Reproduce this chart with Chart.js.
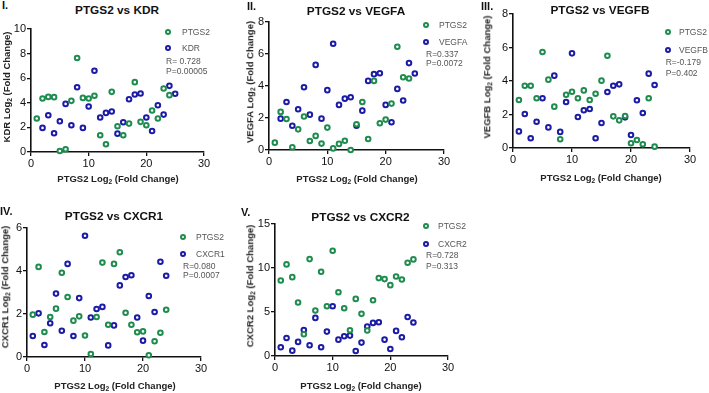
<!DOCTYPE html>
<html>
<head>
<meta charset="utf-8">
<script src="https://cdn.jsdelivr.net/npm/chart.js@4/dist/chart.umd.min.js"></script>
<style>
  html, body { margin:0; padding:0; background:#fff; }
  #wrap { position:relative; width:709px; height:393px; overflow:hidden; font-family:"Liberation Sans", Arial, sans-serif; }
  canvas { position:absolute; }
  .t { position:absolute; white-space:nowrap; line-height:1; }
  .num { font-weight:bold; font-size:11px; color:#111; transform:translate(0,-50%); }
  .title { font-weight:bold; font-size:11.8px; color:#111; transform:translate(-50%,-50%); }
  .xt { font-weight:bold; font-size:9.5px; color:#222; transform:translate(-50%,-50%); }
  .yt { font-weight:bold; font-size:9.5px; color:#222; transform:translate(-50%,-50%) rotate(-90deg); }
  sub { font-size:70%; vertical-align:-0.3em; line-height:0; }
  .lg { font-size:8.5px; color:#555; transform:translate(0,-50%); }
  .mk { position:absolute; width:6px; height:6px; box-sizing:border-box; border-radius:50%; border:2px solid; background:#fff; transform:translate(-50%,-50%); }
</style>
</head>
<body>
<div id="wrap"></div>
<script>
// ---- data ----
const xPtgs2 = [1,2,3,4,5,6,7,8,9,10,11,12,13,14,15,16,17,18,19,20,21,22,23,24];
const xShift = [2,3,4,5,6,7,8,9,10,11,12,13,14,15,16,17,18,19,20,21,22,23,24,25];

const kdrPtgs2 = [2.72,4.35,4.48,4.46,0.08,0.22,4.16,7.64,4.4,4.35,4.57,1.36,0.63,4.89,2.09,1.36,2.31,5.68,2.45,2.17,3.37,2.72,5.16,4.62];
const kdrVals  = [1.96,2.99,1.52,2.5,3.91,2.17,5.27,1.96,3.7,6.6,2.8,3.18,3.29,1.49,2.42,4.29,4.67,4.76,2.8,1.71,3.8,3.04,5.38,4.73];

const vegfaPtgs2 = [0.46,2.38,1.94,0.17,1.29,2.09,0.56,0.88,0.4,1.4,0.1,0.38,0.58,0.0,1.61,3.0,0.69,4.32,1.67,1.9,2.9,6.45,4.55,4.47];
const vegfaVals  = [1.96,3.0,1.52,2.55,3.92,2.21,5.32,1.96,3.74,6.64,2.82,3.21,3.3,1.52,2.46,4.32,4.74,4.8,2.82,1.73,3.82,3.09,5.43,4.78];

const vegfbPtgs2 = [2.87,3.72,3.72,2.97,5.73,4.08,2.47,0.52,3.18,3.36,2.97,3.44,2.87,3.24,4.02,5.51,1.89,1.65,1.91,0.28,0.48,0.22,2.97,0.08];
const vegfbVals  = [0.99,2.03,0.58,1.57,2.97,1.23,4.32,0.96,2.75,5.65,1.85,2.25,2.33,0.58,1.49,3.34,3.72,3.8,1.83,0.78,2.85,2.09,4.44,3.76];

const cxcr1Ptgs2 = [1.97,4.19,1.16,1.86,2.25,3.92,2.79,1.69,1.89,1.0,0.14,1.86,4.39,1.5,4.33,4.87,2.06,1.5,1.15,1.19,0.08,0.73,1.13,2.2];
const cxcr1Vals  = [0.98,2.03,0.56,1.57,2.95,1.22,4.33,0.98,2.74,5.64,1.84,2.23,2.33,0.54,1.47,3.33,3.72,3.8,1.84,0.76,2.84,2.09,4.43,3.78];

const cxcr2Ptgs2 = [8.58,10.41,8.96,6.08,2.47,11.01,5.17,9.57,5.66,11.96,7.25,5.43,2.92,6.49,4.79,2.89,6.34,8.85,8.74,8.05,9.04,8.7,10.6,10.98];
const cxcr2Vals  = [0.99,2.05,0.61,1.6,2.96,1.22,4.33,0.99,2.77,5.66,1.86,2.24,2.32,0.57,1.52,3.34,3.76,3.84,1.86,0.8,2.85,2.13,4.44,3.8];

const xTicks = [0,10,20,30];
const panelNames = ['I.','II.','III.','IV.','V.'];
const genes = ['KDR','VEGFA','VEGFB','CXCR1','CXCR2'];
const rTexts = ['R= 0.728','R=0.337','R=-0.179','R=0.080','R=0.728'];
const pTexts = ['P=0.00005','P=0.0072','P=0.402','P=0.0007','P=0.313'];
const yMaxes = [10,8,8,6,15];
const ySteps = [2,2,2,2,5];

// ---- styling / layout ----
const GREEN = '#1f8c4f';
const BLUE = '#1b1ba6';
const layouts = [
  {L:31, T:29, R:204, B:152, num:[2,5], title:[117,11], yt:[7,87], xt:[118,179], lg:[168,32,182,48,166,61,70.5]},
  {L:269, T:22, R:444, B:150, num:[247,5.5], title:[356,12], yt:[250,82], xt:[357,179], lg:[426,25,439,42.3,426,54,62.7]},
  {L:513, T:14, R:690, B:148, num:[481,6], title:[600,11], yt:[487,77], xt:[601,178.3], lg:[667.7,32.3,679,50,665.7,62,73.3]},
  {L:27, T:228, R:201, B:357, num:[0,211], title:[114,217], yt:[5,287], xt:[115,386], lg:[183,237,196,254.3,183,265.7,275]},
  {L:275, T:224, R:448, B:356, num:[241,211.7], title:[360.5,218], yt:[250,286], xt:[361,385.7], lg:[426,226,438,243.7,426,255,265.7]}
];
const seriesData = [
  {g:[xPtgs2,kdrPtgs2], b:[xShift,kdrVals]},
  {g:[xPtgs2,vegfaPtgs2], b:[xShift,vegfaVals]},
  {g:[xPtgs2,vegfbPtgs2], b:[xPtgs2,vegfbVals]},
  {g:[xPtgs2,cxcr1Ptgs2], b:[xPtgs2,cxcr1Vals]},
  {g:[xPtgs2,cxcr2Ptgs2], b:[xPtgs2,cxcr2Vals]}
];

const wrap = document.getElementById('wrap');
function addText(cls, x, y, html) {
  const d = document.createElement('div');
  d.className = 't ' + cls;
  d.style.left = x + 'px'; d.style.top = y + 'px';
  d.innerHTML = html;
  wrap.appendChild(d);
}
function addMarker(x, y, color) {
  const d = document.createElement('div');
  d.className = 'mk';
  d.style.left = x + 'px'; d.style.top = y + 'px';
  d.style.borderColor = color;
  wrap.appendChild(d);
}
const toPts = (xs, ys) => xs.map((x, i) => ({x: x, y: ys[i]}));

const PADL = 40, PADT = 10, PADR = 10, XH = 25;
layouts.forEach((lay, i) => {
  const c = document.createElement('canvas');
  const w = lay.R - lay.L + PADL + PADR;
  const h = lay.B - lay.T + PADT + XH;
  c.width = w; c.height = h;
  c.style.width = w + 'px'; c.style.height = h + 'px';
  c.style.left = (lay.L - PADL) + 'px';
  c.style.top = (lay.T - PADT) + 'px';
  wrap.appendChild(c);

  const sd = seriesData[i];
  const pointStyle = (col) => ({
    type: 'scatter', pointRadius: 2.3, pointHoverRadius: 2.3, pointBorderWidth: 2,
    borderColor: col, pointBorderColor: col, backgroundColor: '#fff', pointBackgroundColor: '#fff', clip: false
  });
  const tickFont = {family: '"Liberation Sans", Arial, sans-serif', size: 11, weight: 'normal'};
  new Chart(c, {
    type: 'scatter',
    data: {
      datasets: [
        Object.assign({label: 'PTGS2', data: toPts(sd.g[0], sd.g[1])}, pointStyle(GREEN)),
        Object.assign({label: genes[i], data: toPts(sd.b[0], sd.b[1])}, pointStyle(BLUE))
      ]
    },
    options: {
      responsive: false, animation: false, devicePixelRatio: 1,
      layout: {padding: {left: 0, top: PADT, right: PADR, bottom: 0}},
      plugins: {legend: {display: false}, tooltip: {enabled: false}, title: {display: false}},
      scales: {
        x: {
          type: 'linear', min: 0, max: 30,
          afterFit: (s) => { s.height = XH; },
          afterBuildTicks: (s) => { s.ticks = xTicks.map(v => ({value: v})); },
          grid: {drawOnChartArea: false, drawTicks: true, tickLength: 4, color: '#111', lineWidth: 1.3},
          border: {display: true, color: '#111', width: 1.6},
          ticks: {color: '#111', font: tickFont, padding: 1, maxRotation: 0}
        },
        y: {
          type: 'linear', min: 0, max: yMaxes[i],
          afterFit: (s) => { s.width = PADL; },
          ticks: {stepSize: ySteps[i], color: '#111', font: tickFont, padding: 1},
          grid: {drawOnChartArea: false, drawTicks: true, tickLength: 4, color: '#111', lineWidth: 1.3},
          border: {display: true, color: '#111', width: 1.6}
        }
      }
    }
  });

  addText('num', lay.num[0], lay.num[1], panelNames[i]);
  addText('title', lay.title[0], lay.title[1], 'PTGS2 vs ' + genes[i]);
  addText('xt', lay.xt[0], lay.xt[1], 'PTGS2 Log<sub>2</sub> (Fold Change)');
  addText('yt', lay.yt[0], lay.yt[1], genes[i] + ' Log<sub>2</sub> (Fold Change)');
  const g = lay.lg;
  addMarker(g[0], g[1], GREEN);
  addText('lg', g[2], g[1], 'PTGS2');
  addMarker(g[0], g[3], BLUE);
  addText('lg', g[2], g[3], genes[i]);
  addText('lg', g[4], g[5], rTexts[i]);
  addText('lg', g[4], g[6], pTexts[i]);
});
</script>
</body>
</html>
